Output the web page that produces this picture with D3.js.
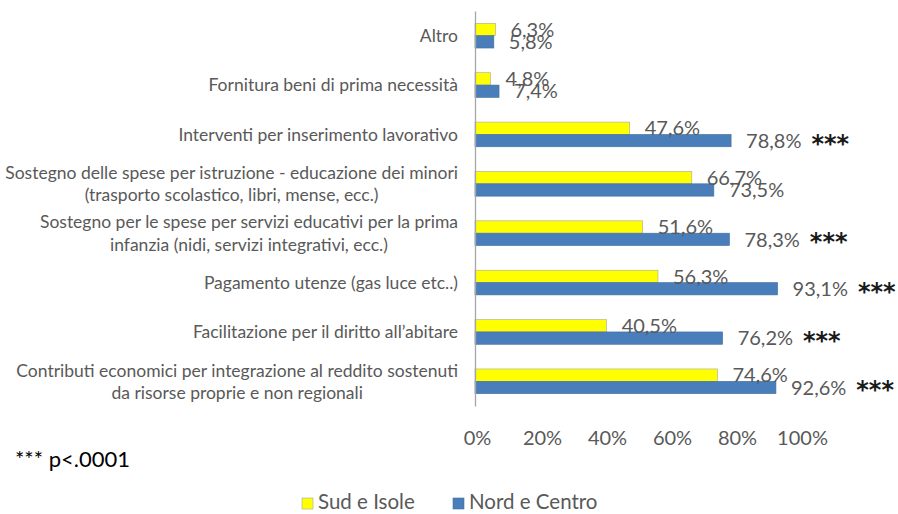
<!DOCTYPE html>
<html><head><meta charset="utf-8">
<script src="https://cdn.jsdelivr.net/npm/d3@7"></script>
<style>
html,body{margin:0;padding:0;background:#fff;}
svg{display:block;font-family:Lato,"Open Sans",sans-serif;}
</style></head>
<body>
<svg id="chart" width="898" height="514"></svg>
<script>
const categories = [
  "Altro",
  "Fornitura beni di prima necessità",
  "Interventi per inserimento lavorativo",
  "Sostegno delle spese per istruzione - educazione dei minori|(trasporto scolastico, libri, mense, ecc.)",
  "Sostegno per le spese per servizi educativi per la prima|infanzia (nidi, servizi integrativi, ecc.)",
  "Pagamento utenze (gas luce etc..)",
  "Facilitazione per il diritto all’abitare",
  "Contributi economici per integrazione al reddito sostenuti|da risorse proprie e non  regionali"
];
const seriesNames = ["Sud e Isole", "Nord e Centro"];
const sudValues = [6.3, 4.8, 47.6, 66.7, 51.6, 56.3, 40.5, 74.6];
const nordValues = [5.8, 7.4, 78.8, 73.5, 78.3, 93.1, 76.2, 92.6];
const significant = [false, false, true, false, true, true, true, true];
const xTicks = [0, 20, 40, 60, 80, 100];
const seriesColors = ["#FFFF00", "#4A7EBB"];
const noteText = "*** p<.0001";

const svg = d3.select("#chart");
const fmt = d3.formatLocale({decimal: ",", thousands: ".", grouping: [3], currency: ["", "€"]}).format(".1f");

const x = d3.scaleLinear().domain([0, 100]).range([475, 800]);
const y = d3.scaleBand().domain(categories).range([11, 406]).paddingInner(0.5).paddingOuter(0.25);
const ys = d3.scaleBand().domain(seriesNames).range([0, y.bandwidth()]);

const data = categories.map((c, i) => ({cat: c, vals: [sudValues[i], nordValues[i]], sig: significant[i]}));

// bars
const groups = svg.append("g").selectAll("g").data(data).join("g")
  .attr("transform", d => `translate(0,${y(d.cat)})`);
groups.selectAll("rect").data(d => d.vals.map((v, k) => ({v, k})))
  .join("rect")
  .attr("x", x(0))
  .attr("y", d => ys(seriesNames[d.k]))
  .attr("width", d => x(d.v) - x(0))
  .attr("height", ys.bandwidth())
  .attr("fill", d => seriesColors[d.k])
  .attr("stroke", d => d.k === 0 ? "#a6a6a6" : "#41719c")
  .attr("stroke-width", 0.6);

// value labels
groups.each(function(d) {
  const g = d3.select(this);
  let lastEnd = 0;
  d.vals.forEach((v, k) => {
    const t = g.append("text")
      .attr("x", x(v) + 15)
      .attr("y", ys(seriesNames[k]) + ys.bandwidth() / 2)
      .attr("dy", "0.36em")
      .attr("fill", "#595959")
      .attr("font-size", 20)
      .text(fmt(v) + "%");
    if (k === 1) lastEnd = x(v) + 15 + t.node().getComputedTextLength();
  });
  if (d.sig) {
    g.append("text")
      .attr("x", lastEnd + 10)
      .attr("y", ys(seriesNames[1]) + ys.bandwidth() / 2 + 11)
      .attr("fill", "#1a1a1a")
      .attr("font-size", 24)
      .attr("font-family", "DejaVu Sans, sans-serif")
      .attr("font-weight", "bold")
      .text("***");
  }
});

// y axis
const yAxis = svg.append("g").attr("transform", `translate(${x(0)},0)`)
  .call(d3.axisLeft(y).tickSize(0).tickPadding(17).tickFormat(""));
yAxis.select(".domain").attr("stroke", "#a6a6a6").attr("stroke-width", 1.3);
yAxis.selectAll(".tick text").each(function(d) {
  const t = d3.select(this).attr("fill", "#595959").attr("font-size", 17.5)
    .attr("font-family", "Lato, sans-serif").attr("text-anchor", "end");
  const lines = d.split("|");
  t.text(null).attr("dy", null);
  lines.forEach((ln, i) => {
    t.append("tspan").attr("x", -17)
      .attr("dy", i === 0 ? (0.36 - (lines.length - 1) * 1.26 / 2) + "em" : "1.26em")
      .attr("text-anchor", lines.length > 1 ? "middle" : "end")
      .text(ln);
  });
});
// center multi-line labels like the reference
yAxis.selectAll(".tick text").each(function(d) {
  const lines = d.split("|");
  if (lines.length > 1) {
    const t = d3.select(this);
    const widths = [];
    t.selectAll("tspan").each(function() { widths.push(this.getComputedTextLength()); });
    const w = d3.max(widths);
    t.selectAll("tspan").attr("x", -17 - w / 2);
  }
});

// x axis
const xAxis = svg.append("g").attr("transform", "translate(2,431)")
  .call(d3.axisBottom(x).tickValues(xTicks).tickSize(0).tickPadding(0).tickFormat(d => d + "%"));
xAxis.select(".domain").remove();
xAxis.selectAll(".tick text").attr("fill", "#595959").attr("font-size", 20).attr("font-family", "Lato, sans-serif");

// note
svg.append("text").attr("x", 15).attr("y", 467).attr("fill", "#000")
  .attr("font-size", 22).text(noteText);

// legend
const legend = svg.append("g").attr("transform", "translate(302,502)");
const legendX = [0, 151];
seriesNames.forEach((s, i) => {
  const lg = legend.append("g").attr("transform", `translate(${legendX[i]},0)`);
  lg.append("rect").attr("x", 0).attr("y", -4).attr("width", 11).attr("height", 11)
    .attr("fill", seriesColors[i]).attr("stroke", i === 0 ? "#a6a6a6" : "#41719c").attr("stroke-width", 0.6);
  lg.append("text").attr("x", 16).attr("y", 0).attr("dy", "0.36em")
    .attr("fill", "#595959").attr("font-size", 20.5).text(s);
});
</script>
</body></html>
